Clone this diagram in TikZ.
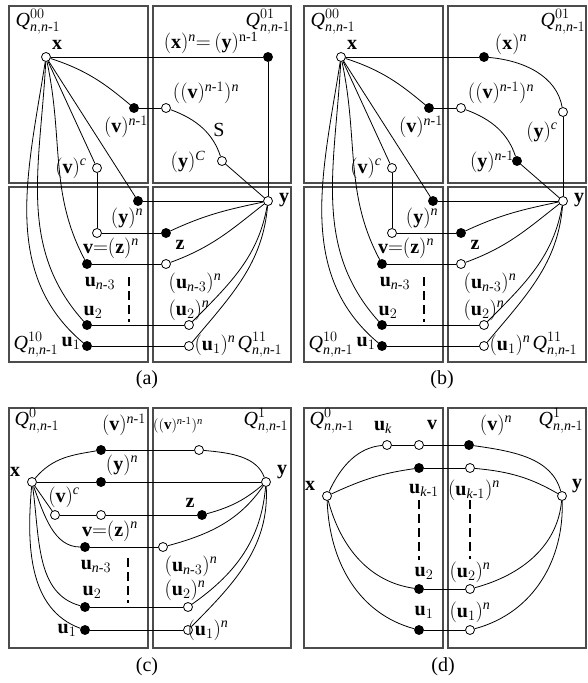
\documentclass[tikz,border=0pt]{standalone}
\usepackage{amsmath}
\usepackage{fontspec}
\setmainfont{Liberation Serif}
\newcommand\Nmo{\mathit{n}\text{-}1}
\newcommand\Nmt{\mathit{n}\text{-}3}
\newcommand\Km{\mathit{k}\text{-}1}
\newcommand\QQ[1]{$\mathit{Q}^{#1}_{\mathit{n},\mathit{n}\text{-}1}$}
\newcommand\bx[1]{\mathbf{#1}}
\newcommand\sn{^{\mathit{n}}}
\tikzset{
 op/.style={circle,draw,fill=white,inner sep=0pt,minimum size=9pt,line width=0.8pt},
 fl/.style={circle,draw,fill=black,inner sep=0pt,minimum size=9pt,line width=0.8pt},
 box/.style={draw=black!70,line width=1.1pt},
 lbl/.style={inner sep=0pt,font=\fontsize{20}{24}\selectfont},
 slbl/.style={inner sep=0pt,font=\fontsize{15}{18}\selectfont},
 dsh/.style={line width=1.2pt,dash pattern=on 9pt off 5pt}
}
\newcommand\abcommon{%
 \draw[box] (9,-6) rectangle (148,-183);
 \draw[box] (153,-6) rectangle (291,-183);
 \draw[box] (9,-187) rectangle (148,-362);
 \draw[box] (153,-187) rectangle (291,-362);
 \node[op] (x) at (46,-57) {};
 \node[fl] (vn1) at (134,-108) {};
 \node[op] (vn1n) at (166,-108) {};
 \node[op] (vc) at (97,-168) {};
 \node[op] (y) at (268,-201) {};
 \node[fl] (yn) at (138,-201) {};
 \node[op] (vzn) at (97,-233) {};
 \node[fl] (z) at (166,-233) {};
 \node[fl] (un3) at (87,-264) {};
 \node[op] (un3n) at (166,-264) {};
 \node[fl] (u2) at (87,-325) {};
 \node[op] (u2n) at (189,-325) {};
 \node[fl] (u1) at (87,-346) {};
 \node[op] (u1n) at (189,-346) {};
 \coordinate (d1) at (129,-277);
 \coordinate (d2) at (129,-322);
 \draw[dsh] (d1) -- (d2);
 \draw (x) to[out=-18,in=140] (vn1);
 \draw (vn1) -- (vn1n);
 \draw (x) -- (vc);
 \draw (vc) -- (vzn);
 \draw (x) -- (yn);
 \draw (yn) -- (y);
 \draw (vzn) -- (z);
 \draw (z) to[out=25,in=192] (y);
 \draw (x) to[out=-78,in=118] (un3);
 \draw (un3) -- (un3n);
 \draw (un3n) to[out=20,in=218] (y);
 \draw (x) to[out=-93,in=132] (u2);
 \draw (u2) -- (u2n);
 \draw (u2n) to[out=45,in=-100] (y);
 \draw (x) to[out=-99,in=140] (u1);
 \draw (u1) -- (u1n);
 \draw (u1n) to[out=50,in=-95] (y);
 \node[lbl] (lQ00) at (38,-22) {\QQ{00}};
 \node[lbl] (lQ01) at (268,-22) {\QQ{01}};
 \node[lbl] (lx) at (57,-45) {$\bx{x}$};
 \node[lbl] (lvn1) at (126,-127) {$(\bx{v})^{\Nmo}$};
 \node[lbl] (lvn1n) at (206,-93) {$((\bx{v})^{\Nmo})\sn$};
 \node[lbl] (lvc) at (71,-168) {$(\bx{v})^{\mathit{c}}$};
 \node[lbl] (ly) at (284,-200) {$\bx{y}$};
 \node[lbl] (lyn) at (127,-218) {$(\bx{y})\sn$};
 \node[lbl] (lvzn) at (111,-248) {$\bx{v}{=}(\bx{z})\sn$};
 \node[lbl] (lz) at (180,-245) {$\bx{z}$};
 \node[lbl] (lun3) at (100,-283) {$\bx{u}_{\Nmt}$};
 \node[lbl] (lun3n) at (195,-283) {$(\bx{u}_{\Nmt})\sn$};
 \node[lbl] (lu2) at (93,-312) {$\bx{u}_2$};
 \node[lbl] (lu2n) at (189,-310) {$(\bx{u}_2)\sn$};
 \node[lbl] (lQ10) at (36,-345) {\QQ{10}};
 \node[lbl] (lu1) at (71,-343) {$\bx{u}_1$};
 \node[lbl] (lu1n) at (215,-345) {$(\bx{u}_1)\sn$};
 \node[lbl] (lQ11) at (260,-345) {\QQ{11}};
}
\begin{document}
\begin{tikzpicture}[x=1pt,y=1pt,line width=0.8pt]
\useasboundingbox (0,0) rectangle (587,-683);
% ---------- (a)
\begin{scope}[name prefix=a-]
 \abcommon
 \node[fl] (xn) at (268,-57) {};
 \node[op] (yC) at (222,-161) {};
 \draw (x) -- (xn);
 \draw (xn) -- (y);
 \draw (vn1n) to[out=-20,in=108] (yC);
 \draw (yC) -- (y);
 \node[lbl] (lxn) at (211,-43) {$(\bx{x})\sn{=}\,(\bx{y})^{\text{n-1}}$};
 \node[lbl] (lS) at (219,-130) {S};
 \node[lbl] (lyC) at (188,-162) {$(\bx{y})^{\mathit{C}}$};
 \node[lbl] (cap) at (147,-380) {(a)};
\end{scope}
% ---------- (b)
\begin{scope}[xshift=295pt,name prefix=b-]
 \abcommon
 \node[fl] (xn) at (189,-57) {};
 \node[op] (yc) at (268,-112) {};
 \node[fl] (yn1) at (222,-161) {};
 \draw (x) -- (xn);
 \draw (xn) to[out=-5,in=100] (yc);
 \draw (yc) -- (y);
 \draw (vn1n) to[out=-20,in=108] (yn1);
 \draw (yn1) -- (y);
 \node[lbl] (lxn) at (216,-44) {$(\bx{x})\sn$};
 \node[lbl] (lyc) at (247,-132) {$(\bx{y})^{\mathit{c}}$};
 \node[lbl] (lyn1) at (197,-162) {$(\bx{y})^{\Nmo}$};
 \node[lbl] (cap) at (147,-380) {(b)};
\end{scope}
% ---------- (c)
\begin{scope}[name prefix=c-]
 \draw[box] (9,-408) rectangle (148,-648);
 \draw[box] (153,-408) rectangle (291,-648);
 \node[op] (x) at (32,-482) {};
 \node[fl] (vn1) at (101,-450) {};
 \node[op] (vn1n) at (199,-450) {};
 \node[fl] (yn) at (101,-482) {};
 \node[op] (y) at (266,-482) {};
 \node[op] (vc) at (55,-515) {};
 \node[op] (vzn) at (101,-515) {};
 \node[fl] (z) at (202,-515) {};
 \node[fl] (un3) at (85,-547) {};
 \node[op] (un3n) at (163,-547) {};
 \node[fl] (u2) at (85,-607) {};
 \node[op] (u2n) at (188,-607) {};
 \node[fl] (u1) at (85,-630) {};
 \node[op] (u1n) at (188,-630) {};
 \coordinate (d1) at (128,-558);
 \coordinate (d2) at (128,-603);
 \draw[dsh] (d1) -- (d2);
 \draw (x) to[out=50,in=190] (vn1);
 \draw (vn1) -- (vn1n);
 \draw (vn1n) to[out=-5,in=110] (y);
 \draw (x) -- (yn);
 \draw (yn) -- (y);
 \draw (x) -- (vc);
 \draw (vc) -- (vzn);
 \draw (vzn) -- (z);
 \draw (z) to[out=15,in=-140] (y);
 \draw (x) to[out=-70,in=180] (un3);
 \draw (un3) -- (un3n);
 \draw (un3n) to[out=15,in=-125] (y);
 \draw (x) to[out=-82,in=165] (u2);
 \draw (u2) -- (u2n);
 \draw (u2n) to[out=35,in=-95] (y);
 \draw (x) to[out=-95,in=160] (u1);
 \draw (u1) -- (u1n);
 \draw (u1n) to[out=45,in=-87] (y);
 \node[lbl] (lQ0) at (37,-421) {\QQ{0}};
 \node[lbl] (lQ1) at (266,-421) {\QQ{1}};
 \node[lbl] (lvn1) at (124,-425) {$(\bx{v})^{\Nmo}$};
 \node[slbl] (lvn1n) at (178,-425) {$((\bx{v})^{\Nmo})\sn$};
 \node[lbl] (lx) at (15,-472) {$\bx{x}$};
 \node[lbl] (lyn) at (122,-465) {$(\bx{y})\sn$};
 \node[lbl] (ly) at (282,-472) {$\bx{y}$};
 \node[lbl] (lvc) at (64,-497) {$(\bx{v})^{\mathit{c}}$};
 \node[lbl] (lz) at (190,-503) {$\bx{z}$};
 \node[lbl] (lvzn) at (110,-531) {$\bx{v}{=}(\bx{z})\sn$};
 \node[lbl] (lun3) at (96,-566) {$\bx{u}_{\Nmt}$};
 \node[lbl] (lun3n) at (191,-566) {$(\bx{u}_{\Nmt})\sn$};
 \node[lbl] (lu2) at (92,-592) {$\bx{u}_2$};
 \node[lbl] (lu2n) at (185,-590) {$(\bx{u}_2)\sn$};
 \node[lbl] (lu1) at (67,-630) {$\bx{u}_1$};
 \node[lbl] (lu1n) at (208,-630) {$(\bx{u}_1)\sn$};
 \node[lbl] (cap) at (147,-667) {(c)};
\end{scope}
% ---------- (d)
\begin{scope}[name prefix=d-]
 \draw[box] (304,-408) rectangle (443,-648);
 \draw[box] (448,-408) rectangle (586,-648);
 \node[op] (x) at (327,-496) {};
 \node[op] (uk) at (387,-445) {};
 \node[op] (v) at (419,-445) {};
 \node[fl] (vn) at (469,-445) {};
 \node[op] (y) at (562,-496) {};
 \node[fl] (uk1) at (419,-468) {};
 \node[op] (uk1n) at (470,-468) {};
 \node[fl] (u2) at (419,-589) {};
 \node[op] (u2n) at (470,-589) {};
 \node[fl] (u1) at (419,-630) {};
 \node[op] (u1n) at (470,-630) {};
 \coordinate (d1) at (419,-500);
 \coordinate (d2) at (419,-560);
 \coordinate (d3) at (470,-500);
 \coordinate (d4) at (470,-559);
 \draw[dsh] (d1) -- (d2);
 \draw[dsh] (d3) -- (d4);
 \draw (x) to[out=65,in=185] (uk);
 \draw (uk) -- (v);
 \draw (v) -- (vn);
 \draw (vn) to[out=-8,in=105] (y);
 \draw (x) to[out=25,in=188] (uk1);
 \draw (uk1) -- (uk1n);
 \draw (uk1n) to[out=-5,in=150] (y);
 \draw (x) to[out=-75,in=172] (u2);
 \draw (u2) -- (u2n);
 \draw (u2n) to[out=15,in=-95] (y);
 \draw (x) to[out=-88,in=165] (u1);
 \draw (u1) -- (u1n);
 \draw (u1n) to[out=15,in=-88] (y);
 \node[lbl] (lQ0) at (332,-421) {\QQ{0}};
 \node[lbl] (lQ1) at (561,-421) {\QQ{1}};
 \node[lbl] (luk) at (383,-427) {$\bx{u}_{\mathit{k}}$};
 \node[lbl] (lv) at (432,-425) {$\bx{v}$};
 \node[lbl] (lvn) at (496,-425) {$(\bx{v})\sn$};
 \node[lbl] (lx) at (310,-486) {$\bx{x}$};
 \node[lbl] (ly) at (577,-486) {$\bx{y}$};
 \node[lbl] (luk1) at (424,-490) {$\bx{u}_{\Km}$};
 \node[lbl] (luk1n) at (474,-490) {$(\bx{u}_{\Km})\sn$};
 \node[lbl] (lu2) at (424,-573) {$\bx{u}_2$};
 \node[lbl] (lu2n) at (470,-572) {$(\bx{u}_2)\sn$};
 \node[lbl] (lu1) at (424,-612) {$\bx{u}_1$};
 \node[lbl] (lu1n) at (470,-612) {$(\bx{u}_1)\sn$};
 \node[lbl] (cap) at (443,-667) {(d)};
\end{scope}
\end{tikzpicture}
\end{document}
